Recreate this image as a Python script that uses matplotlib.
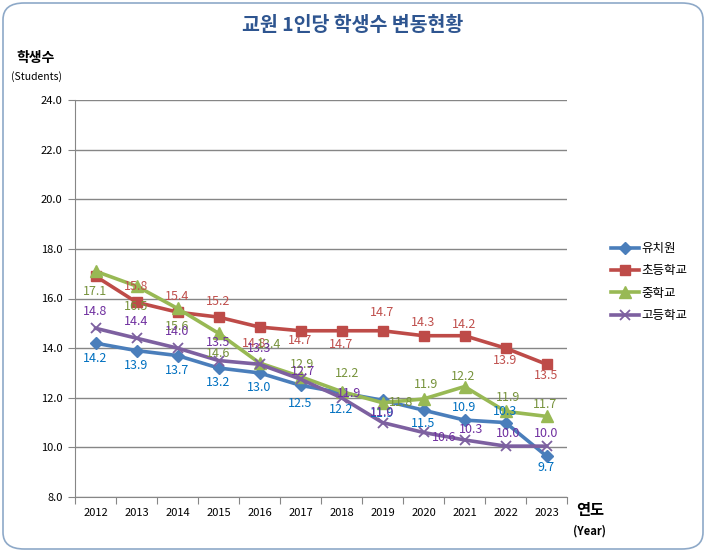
import matplotlib
matplotlib.use('Agg')
from matplotlib import pyplot as plt
from matplotlib.patches import FancyBboxPatch
from matplotlib.ticker import FixedLocator, NullFormatter

plt.rcParams['font.family'] = ['Noto Sans CJK KR', 'DejaVu Sans']

# data
years = ['2012', '2013', '2014', '2015', '2016', '2017',
         '2018', '2019', '2020', '2021', '2022', '2023']

kinder = [14.2, 13.9, 13.7, 13.2, 13.0, 12.5, 12.2, 11.9, 11.5, 11.1, 11.0, 9.65]
elem = [16.9, 15.85, 15.45, 15.25, 14.85, 14.7, 14.7, 14.7, 14.5, 14.5, 14.0, 13.35]
middle = [17.1, 16.5, 15.6, 14.6, 13.4, 12.85, 12.25, 11.8, 11.95, 12.45, 11.45, 11.25]
high = [14.8, 14.4, 14.0, 13.5, 13.35, 12.75, 12.0, 11.0, 10.6, 10.3, 10.05, 10.05]

# data label texts (as printed on the chart)
kinder_lbl = ['14.2', '13.9', '13.7', '13.2', '13.0', '12.5',
              '12.2', '11.9', '11.5', '10.9', '10.3', '9.7']
elem_lbl = ['', '15.8', '15.4', '15.2', '14.8', '14.7',
            '14.7', '14.7', '14.3', '14.2', '13.9', '13.5']
middle_lbl = ['17.1', '16.5', '15.6', '14.6', '13.4', '12.9',
              '12.2', '11.8', '11.9', '12.2', '11.9', '11.7']
high_lbl = ['14.8', '14.4', '14.0', '13.5', '13.3', '12.7',
            '11.9', '11.0', '10.6', '10.3', '10.0', '10.0']

# label offsets in pixels (dx, dy)
kinder_off = [(0, -15)] * 5 + [(0, -18), (0, -17), (0, -13), (0, -13),
                               (0, 13), (0, 11), (0, -11)]
elem_off = [(0, 16), (0, 16), (0, 16), (0, 16), (-5, -16), (0, -10),
            (0, -14), (0, 18), (0, 13), (0, 11), (0, -12), (0, -11)]
middle_off = [(0, -20), (0, -20), (0, -18), (0, -20), (10, 19), (2, 12),
              (6, 18), (19, 0), (3, 14), (-1, 10), (3, 14), (-1, 12)]
high_off = [(0, 17), (0, 17), (0, 17), (0, 18), (0, 16), (3, 8),
            (8, 4), (0, 10), (21, -5), (7, 10), (3, 13), (0, 13)]

series = [
    ('유치원', kinder, kinder_lbl, kinder_off, '#4A7EBB', '#0070C0', 'D', 6),
    ('초등학교', elem, elem_lbl, elem_off, '#BE4B48', '#C0504D', 's', 7),
    ('중학교', middle, middle_lbl, middle_off, '#98B954', '#77933C', '^', 8),
    ('고등학교', high, high_lbl, high_off, '#7D60A0', '#7030A0', 'x', 7),
]

fig = plt.figure(figsize=(7.06, 5.52), dpi=100)
fig.patch.set_facecolor('white')

border = FancyBboxPatch((3 / 706, 3 / 552), 700 / 706, 546 / 552,
                        boxstyle='round,pad=0,rounding_size=0.03',
                        transform=fig.transFigure, facecolor='none',
                        edgecolor='#8EA9C8', linewidth=1.2)
fig.patches.append(border)

ax = fig.add_axes([75 / 706, 1 - 497 / 552, 492 / 706, 397 / 552])
x = list(range(len(years)))

for name, vals, lbls, offs, lc, tc, mk, ms in series:
    ax.plot(x, vals, color=lc, linewidth=2.6, marker=mk, markersize=ms,
            markeredgewidth=1.3 if mk == 'x' else 1, label=name, zorder=3)
    for xi, v, t, (dx, dy) in zip(x, vals, lbls, offs):
        if t:
            ax.annotate(t, (xi, v), xytext=(dx, dy), textcoords='offset pixels',
                        ha='center', va='center', fontsize=9, color=tc,
                        zorder=4)

ax.set_ylim(8, 24)
ax.set_xlim(-0.5, 11.5)
ax.set_yticks([8, 10, 12, 14, 16, 18, 20, 22, 24])
ax.set_yticklabels(['%.1f' % v for v in ax.get_yticks()], fontsize=8)
ax.yaxis.grid(True, color='#868686', linewidth=1)
ax.set_axisbelow(True)

ax.xaxis.set_major_locator(FixedLocator([i - 0.5 for i in range(13)]))
ax.xaxis.set_major_formatter(NullFormatter())
ax.set_xticks(x, minor=True)
ax.set_xticklabels(years, minor=True, fontsize=8)
ax.tick_params(axis='x', which='major', length=5, color='#868686')
ax.tick_params(axis='x', which='minor', length=0, pad=8)
ax.tick_params(axis='y', length=5, color='#868686', pad=4)

for s in ['top', 'right']:
    ax.spines[s].set_visible(False)
for s in ['left', 'bottom']:
    ax.spines[s].set_color('#868686')

fig.text(353 / 706, 1 - 25 / 552, '교원 1인당 학생수 변동현황', ha='center',
         va='center', fontsize=14, fontweight='bold', color='#2E5590')
fig.text(36 / 706, 1 - 58 / 552, '학생수', ha='center', va='center',
         fontsize=10, fontweight='bold')
fig.text(37 / 706, 1 - 77 / 552, '(Students)', ha='center', va='center',
         fontsize=7.5)
fig.text(590 / 706, 1 - 510 / 552, '연도', ha='center', va='center',
         fontsize=11, fontweight='bold')
fig.text(590 / 706, 1 - 531 / 552, '(Year)', ha='center', va='center',
         fontsize=8, fontweight='bold')

fig.legend(loc='center left', bbox_to_anchor=(600 / 706, 1 - 282 / 552),
           frameon=False, fontsize=9, handlelength=2.2, handletextpad=0.2,
           labelspacing=0.75)

fig.savefig('out.png', dpi=100)
